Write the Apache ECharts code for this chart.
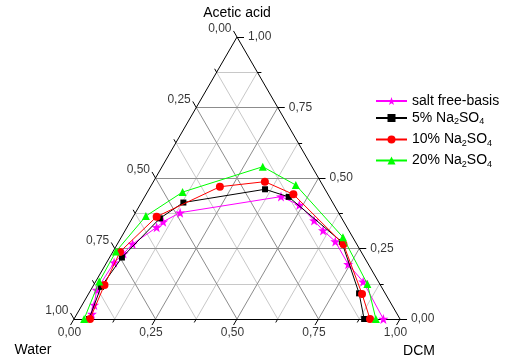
<!DOCTYPE html>
<html><head><meta charset="utf-8">
<script src="https://cdn.jsdelivr.net/npm/echarts@6/dist/echarts.min.js"></script>
<style>html,body{margin:0;padding:0;background:#fff}#c{width:507px;height:357px}</style>
</head><body><div id="c"></div>
<script>
// Ternary data: fraction of DCM and fraction of acetic acid (water = rest)
const seriesNames = ['salt free-basis', '5% Na2SO4', '10% Na2SO4', '20% Na2SO4'];
const saltFreeDCM    = [0.046,0.037,0.018,0.023,0.036,0.047,0.091,0.101,0.137,0.418,0.489,0.562,0.607,0.664,0.744,0.821,0.949];
const saltFreeAcetic = [0.018,0.050,0.103,0.200,0.232,0.266,0.325,0.345,0.377,0.434,0.404,0.349,0.314,0.275,0.194,0.132,0.000];
const na5DCM    = [0.046,0.026,0.038,0.085,0.129,0.356,0.442,0.685,0.829,0.890];
const na5Acetic = [0.000,0.114,0.218,0.357,0.413,0.460,0.433,0.273,0.091,0.000];
const na10DCM    = [0.049,0.033,0.022,0.072,0.213,0.342,0.452,0.694,0.839,0.908];
const na10Acetic = [0.000,0.121,0.238,0.363,0.469,0.487,0.442,0.265,0.089,0.000];
const na20DCM    = [0.031,0.011,0.009,0.038,0.108,0.309,0.443,0.680,0.838,0.926];
const na20Acetic = [0.000,0.133,0.239,0.365,0.450,0.540,0.475,0.290,0.124,0.000];
const tickValues = [0, 0.25, 0.5, 0.75, 1];
const tickLabels = ['0,00', '0,25', '0,50', '0,75', '1,00'];
const gridSteps = [0.125, 0.25, 0.375, 0.5, 0.625, 0.75, 0.875];
const allTicks = [0, 0.125, 0.25, 0.375, 0.5, 0.625, 0.75, 0.875, 1];
const axisTitles = ['Acetic acid', 'Water', 'DCM'];

const FONT = 'Liberation Sans, Arial, sans-serif';
const S3 = Math.sqrt(3) / 2;
const PX = 326; // grid width in px, 1 data unit
function xy(d, a) { return [d + a / 2, a * S3]; }
function isMajor(v) { return Math.abs(v * 4 - Math.round(v * 4)) < 1e-9; }

// grid lines
const gridMajor = [], gridMinor = [];
gridSteps.forEach(v => {
  const arr = isMajor(v) ? gridMajor : gridMinor;
  arr.push({coords: [xy(0, v), xy(1 - v, v)]});
  arr.push({coords: [xy(v, 0), xy(v, 1 - v)]});
  arr.push({coords: [xy(1 - v, 0), xy(0, 1 - v)]});
});
const edges = [
  {coords: [xy(0, 0), xy(1, 0)]},
  {coords: [xy(1, 0), xy(0, 1)]},
  {coords: [xy(0, 1), xy(0, 0)]}
];
// ticks
const ticks = [];
const bottomEnds = {}, rightEnds = {}, leftEnds = {};
allTicks.forEach(v => {
  const L = (isMajor(v) ? 7 : 4) / PX;
  let p = xy(v, 0); let e = [p[0] - 0.5 * L, p[1] - S3 * L];
  ticks.push({coords: [p, e]}); bottomEnds[v] = e;
  p = xy(1 - v, v); e = [p[0] + L, p[1]];
  ticks.push({coords: [p, e]}); rightEnds[v] = e;
  p = xy(0, 1 - v); e = [p[0] - 0.5 * L, p[1] + S3 * L];
  ticks.push({coords: [p, e]}); leftEnds[v] = e;
});
const bottomLabels = tickValues.map((v, i) => ({name: tickLabels[i], value: bottomEnds[v]}));
const rightLabels = tickValues.map((v, i) => ({name: tickLabels[i], value: rightEnds[v]}));
const leftLabels = tickValues.map((v, i) => ({name: tickLabels[i], value: leftEnds[v]}));

function pts(ds, as) { return ds.map((d, i) => xy(d, as[i])); }
const dataSeries = [
  {name: seriesNames[0], data: pts(saltFreeDCM, saltFreeAcetic), color: '#ff00ff', symbol: 'path://M0,-10L2.35,-3.24L9.51,-3.09L3.8,1.24L5.88,8.09L0,4L-5.88,8.09L-3.8,1.24L-9.51,-3.09L-2.35,-3.24Z', size: 10},
  {name: seriesNames[1], data: pts(na5DCM, na5Acetic), color: '#000000', symbol: 'rect', size: 6},
  {name: seriesNames[2], data: pts(na10DCM, na10Acetic), color: '#ff0000', symbol: 'circle', size: 8},
  {name: seriesNames[3], data: pts(na20DCM, na20Acetic), color: '#00ff00', symbol: 'triangle', size: 8}
].map((s, i) => ({
  type: 'line', name: s.name, data: s.data, symbol: s.symbol, symbolSize: s.size,
  itemStyle: {color: s.color}, lineStyle: {color: s.color, width: 1}, z: 10 + i,
  animation: false, showSymbol: true, clip: false
}));

function lineSeries(data, color, z) {
  return {type: 'lines', coordinateSystem: 'cartesian2d', data: data, silent: true, z: z, clip: false,
    lineStyle: {color: color, width: 1, opacity: 1}, animation: false};
}
function labelSeries(data, position, offset) {
  return {type: 'scatter', data: data, symbolSize: 0, silent: true, z: 5, animation: false, clip: false,
    itemStyle: {color: 'transparent'},
    label: {show: true, formatter: '{b}', position: position, distance: 2, offset: offset,
      fontFamily: FONT, fontSize: 12, color: '#000'}};
}

const legendTops = [94, 111, 132.5, 153.5];
const legends = seriesNames.map((n, i) => ({
  data: [n], left: 375, top: legendTops[i], padding: 0, itemWidth: 31, itemHeight: 10,
  selectedMode: false,
  formatter: name => name.replace('Na2SO4', 'Na{sub|2}SO{sub|4}'),
  textStyle: {fontFamily: FONT, fontSize: 14, color: '#000',
    rich: {sub: {fontFamily: FONT, fontSize: 9, color: '#000', padding: [8, 0, 0, 0]}}}
}));

const chart = echarts.init(document.getElementById('c'), null, {renderer: 'canvas'});
chart.setOption({
  backgroundColor: '#fff',
  animation: false,
  grid: {left: 74, top: 37, width: PX, height: 282},
  xAxis: {type: 'value', min: 0, max: 1, show: false},
  yAxis: {type: 'value', min: 0, max: S3, show: false},
  legend: legends,
  graphic: [
    {type: 'text', x: 237, y: 13, style: {text: axisTitles[0], font: '14px ' + FONT, fill: '#000', textAlign: 'center', textVerticalAlign: 'middle'}},
    {type: 'text', x: 33, y: 350, style: {text: axisTitles[1], font: '14px ' + FONT, fill: '#000', textAlign: 'center', textVerticalAlign: 'middle'}},
    {type: 'text', x: 419, y: 351, style: {text: axisTitles[2], font: '14px ' + FONT, fill: '#000', textAlign: 'center', textVerticalAlign: 'middle'}}
  ],
  series: [
    lineSeries(gridMinor, '#c8c8c8', 1),
    lineSeries(gridMajor, '#8c8c8c', 2),
    lineSeries(edges, '#000', 3),
    lineSeries(ticks, '#000', 3),
    labelSeries(bottomLabels, 'bottom', [-1, 0]),
    labelSeries(rightLabels, 'right', [2, 0]),
    labelSeries(leftLabels, 'left', [0, -2])
  ].concat(dataSeries)
});
</script></body></html>
